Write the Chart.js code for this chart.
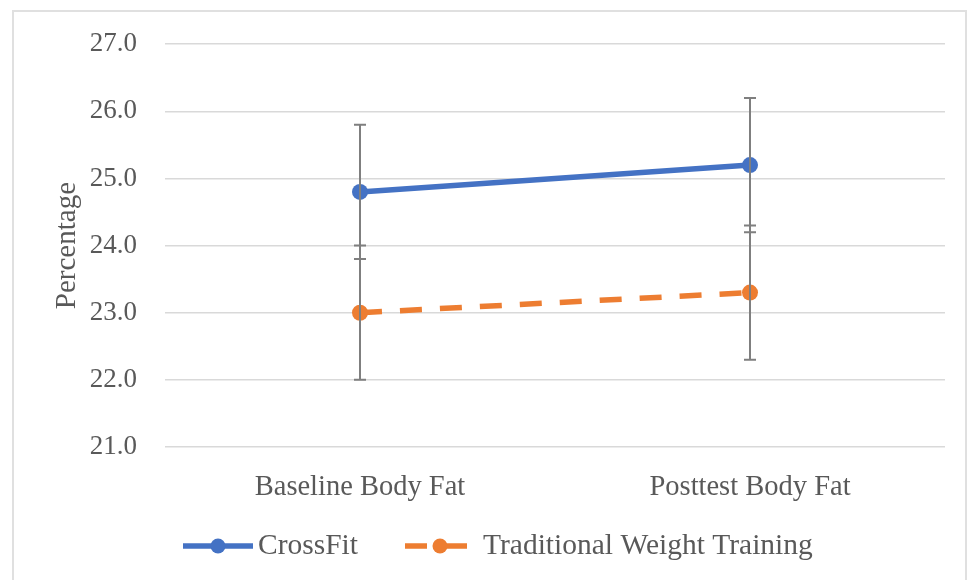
<!DOCTYPE html>
<html>
<head>
<meta charset="utf-8">
<script src="https://cdn.jsdelivr.net/npm/chart.js@4"></script>
<style>
  html, body { margin: 0; padding: 0; background: #fff; }
  #wrap { width: 971px; height: 580px; }
</style>
</head>
<body>
<div id="wrap"><canvas id="chart" width="971" height="580"></canvas></div>
<script>
// data
const categories = ['Baseline Body Fat', 'Posttest Body Fat'];
const seriesNames = ['CrossFit', 'Traditional Weight Training'];
const crossFit = [24.8, 25.2];
const crossFitErr = [1.0, 1.0];
const traditional = [23.0, 23.3];
const traditionalErr = [1.0, 1.0];
const yMin = 21, yMax = 27, yStep = 1;

const FONT = "'Liberation Serif', 'Times New Roman', serif";
const TEXT = '#595959';

// error bars drawn on top of the lines like Excel does
const errorBars = {
  id: 'errorBars',
  afterDatasetsDraw(chart) {
    const ctx = chart.ctx;
    const y = chart.scales.y;
    ctx.save();
    ctx.strokeStyle = '#7f7f7f';
    ctx.lineWidth = 2;
    chart.data.datasets.forEach((ds, i) => {
      const meta = chart.getDatasetMeta(i);
      meta.data.forEach((pt, j) => {
        const v = ds.data[j], e = ds.errors[j];
        const top = y.getPixelForValue(v + e);
        const bot = y.getPixelForValue(v - e);
        ctx.beginPath();
        ctx.moveTo(pt.x, top); ctx.lineTo(pt.x, bot);
        ctx.moveTo(pt.x - 6, top); ctx.lineTo(pt.x + 6, top);
        ctx.moveTo(pt.x - 6, bot); ctx.lineTo(pt.x + 6, bot);
        ctx.stroke();
      });
    });
    ctx.restore();
  }
};

// outer frame + Excel style legend (line sample with marker)
const frameLegend = {
  id: 'frameLegend',
  beforeDraw(chart) {
    const ctx = chart.ctx;
    ctx.save();
    ctx.strokeStyle = '#e0e0e0';
    ctx.lineWidth = 2;
    ctx.strokeRect(13, 11, 953, 600);
    ctx.restore();
  },
  afterDraw(chart) {
    const ctx = chart.ctx;
    const yc = 546;
    const items = [
      { x: 183, text: 258 },
      { x: 405, text: 483 }
    ];
    ctx.save();
    chart.data.datasets.forEach((ds, i) => {
      const it = items[i];
      ctx.strokeStyle = ds.borderColor;
      ctx.lineWidth = 5.5;
      ctx.setLineDash(ds.borderDash || []);
      ctx.beginPath();
      ctx.moveTo(it.x, yc); ctx.lineTo(it.x + 70, yc);
      ctx.stroke();
      ctx.setLineDash([]);
      ctx.fillStyle = ds.borderColor;
      ctx.beginPath();
      ctx.arc(it.x + 35, yc, 7.5, 0, Math.PI * 2);
      ctx.fill();
      ctx.fillStyle = TEXT;
      ctx.font = '29.5px ' + FONT;
      ctx.textBaseline = 'middle';
      ctx.textAlign = 'left';
      ctx.fillText(ds.label, it.text, yc);
    });
    ctx.restore();
  }
};

new Chart(document.getElementById('chart'), {
  type: 'line',
  data: {
    labels: categories,
    datasets: [
      {
        label: seriesNames[0],
        data: crossFit,
        errors: crossFitErr,
        borderColor: '#4472c4',
        backgroundColor: '#4472c4',
        borderWidth: 5.5,
        pointRadius: 8,
        pointHoverRadius: 8,
        pointBorderWidth: 0
      },
      {
        label: seriesNames[1],
        data: traditional,
        errors: traditionalErr,
        borderColor: '#ed7d31',
        backgroundColor: '#ed7d31',
        borderWidth: 5.5,
        borderDash: [22, 18],
        pointRadius: 8,
        pointHoverRadius: 8,
        pointBorderWidth: 0
      }
    ]
  },
  options: {
    responsive: false,
    animation: false,
    layout: { padding: { left: 14, right: 26, top: 43, bottom: 0 } },
    plugins: {
      legend: { display: false },
      tooltip: { enabled: false }
    },
    scales: {
      x: {
        offset: true,
        grid: { display: false, drawTicks: false },
        border: { display: false },
        ticks: { color: TEXT, font: { family: FONT, size: 28.5 }, padding: 23 },
        afterFit(scale) { scale.height = 133; }
      },
      y: {
        min: yMin,
        max: yMax,
        grid: { color: '#d9d9d9', lineWidth: 1.5, drawTicks: false },
        border: { display: false },
        ticks: {
          stepSize: yStep,
          color: TEXT,
          font: { family: FONT, size: 27 },
          padding: 28,
          callback: v => v.toFixed(1)
        },
        title: {
          display: true,
          text: 'Percentage',
          color: TEXT,
          font: { family: FONT, size: 29 },
          padding: { top: 36, bottom: 0 }
        },
        afterFit(scale) { scale.width = 151; }
      }
    }
  },
  plugins: [errorBars, frameLegend]
});
</script>
</body>
</html>
